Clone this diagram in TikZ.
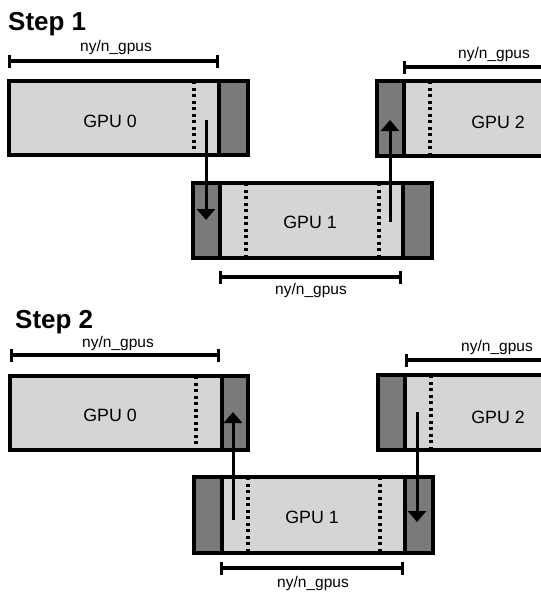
\documentclass[tikz,border=0pt]{standalone}
\usepackage{fontspec}
\setmainfont{Liberation Sans}
\usetikzlibrary{arrows.meta}
\definecolor{lightgpu}{HTML}{D5D5D5}
\definecolor{darkgpu}{HTML}{7A7A7A}
\tikzset{
  gpubox/.style={rectangle, fill=lightgpu, inner sep=0pt, outer sep=0pt},
  halo/.style={fill=darkgpu},
  border/.style={line width=3.8pt},
  sepline/.style={line width=3.6pt},
  dots/.style={line width=3.2pt, dash pattern=on 3pt off 3.5pt},
  measure/.style={line width=3.2pt, {Bar[width=13pt]}-{Bar[width=13pt]}},
  measureopen/.style={line width=3.2pt, {Bar[width=13pt]}-},
  xfer/.style={line width=3pt, -{Triangle[width=18pt,length=11pt]}},
  gputext/.style={font=\fontsize{17.8}{20}\selectfont, inner sep=0pt},
  meastext/.style={font=\fontsize{15.5}{18}\selectfont, inner sep=0pt},
  steptext/.style={font=\fontsize{26}{30}\selectfont\bfseries, anchor=base west, inner sep=0pt},
}
\begin{document}
\begin{tikzpicture}[x=1pt,y=-1pt]
\useasboundingbox (0,0) rectangle (541,592);
\clip (0,0) rectangle (541,592);

% ---------------- Step 1 ----------------
\node[steptext] (s1) at (8,30) {Step 1};

% GPU 0
\node[gpubox, minimum width=239pt, minimum height=74pt] (a0) at (128.5,118) {};
\fill[halo] (219,81) rectangle (248,155);
\draw[sepline] (219,81) -- (219,155);
\draw[dots] (194,81) -- (194,155);
\draw[border] (a0.north west) rectangle (a0.south east);
\node[gputext] (a0t) at (110,121) {GPU 0};

% GPU 1
\node[gpubox, minimum width=239pt, minimum height=75pt] (a1) at (312.5,220.5) {};
\fill[halo] (193,183) rectangle (220,258);
\fill[halo] (403,183) rectangle (432,258);
\draw[sepline] (220,183) -- (220,258);
\draw[sepline] (403,183) -- (403,258);
\draw[dots] (246,183) -- (246,258);
\draw[dots] (379,183) -- (379,258);
\draw[border] (a1.north west) rectangle (a1.south east);
\node[gputext] (a1t) at (310,222) {GPU 1};

% GPU 2
\node[gpubox, minimum width=263pt, minimum height=75pt] (a2) at (508.5,118.5) {};
\fill[halo] (377,81) rectangle (404,156);
\draw[sepline] (404,81) -- (404,156);
\draw[dots] (430,81) -- (430,156);
\draw[border] (a2.north west) rectangle (a2.south east);
\node[gputext] (a2t) at (498,122) {GPU 2};

% transfers
\coordinate (a0s) at (206,120);
\coordinate (a1e) at (206,220);
\coordinate (a1s) at (390,222);
\coordinate (a2e) at (390,120);
\draw[xfer] (a0s) -- (a1e);
\draw[xfer] (a1s) -- (a2e);

% measures
\coordinate (m0l) at (8,61);   \coordinate (m0r) at (219,61);
\coordinate (m1l) at (219,277); \coordinate (m1r) at (402,277);
\coordinate (m2l) at (403,67); \coordinate (m2r) at (580,67);
\draw[measure] (m0l) -- (m0r);
\draw[measure] (m1l) -- (m1r);
\draw[measureopen] (m2l) -- (m2r);
\node[meastext] (l0) at (116,47) {ny/n\_gpus};
\node[meastext] (l1) at (311,290) {ny/n\_gpus};
\node[meastext] (l2) at (494,54) {ny/n\_gpus};

% ---------------- Step 2 ----------------
\node[steptext] (s2) at (15,328) {Step 2};

% GPU 0
\node[gpubox, minimum width=238pt, minimum height=74pt] (b0) at (129,413) {};
\fill[halo] (222,376) rectangle (248,450);
\draw[sepline] (222,376) -- (222,450);
\draw[dots] (196,376) -- (196,450);
\draw[border] (b0.north west) rectangle (b0.south east);
\node[gputext] (b0t) at (110,415) {GPU 0};

% GPU 1
\node[gpubox, minimum width=239pt, minimum height=76pt] (b1) at (313.5,515) {};
\fill[halo] (194,477) rectangle (222,553);
\fill[halo] (405,477) rectangle (433,553);
\draw[sepline] (222,477) -- (222,553);
\draw[sepline] (405,477) -- (405,553);
\draw[dots] (248,477) -- (248,553);
\draw[dots] (380,477) -- (380,553);
\draw[border] (b1.north west) rectangle (b1.south east);
\node[gputext] (b1t) at (312,517) {GPU 1};

% GPU 2
\node[gpubox, minimum width=262pt, minimum height=75pt] (b2) at (509,412.5) {};
\fill[halo] (378,375) rectangle (405,450);
\draw[sepline] (405,375) -- (405,450);
\draw[dots] (431,375) -- (431,450);
\draw[border] (b2.north west) rectangle (b2.south east);
\node[gputext] (b2t) at (498,417) {GPU 2};

% transfers
\coordinate (b1s) at (233,520);
\coordinate (b0e) at (233,412);
\coordinate (b2s) at (417,412);
\coordinate (b1e) at (417,522);
\draw[xfer] (b1s) -- (b0e);
\draw[xfer] (b2s) -- (b1e);

% measures
\coordinate (n0l) at (10,355);  \coordinate (n0r) at (220,355);
\coordinate (n1l) at (220,568); \coordinate (n1r) at (404,568);
\coordinate (n2l) at (405,360); \coordinate (n2r) at (580,360);
\draw[measure] (n0l) -- (n0r);
\draw[measure] (n1l) -- (n1r);
\draw[measureopen] (n2l) -- (n2r);
\node[meastext] (k0) at (118,343) {ny/n\_gpus};
\node[meastext] (k1) at (313,583) {ny/n\_gpus};
\node[meastext] (k2) at (497,347) {ny/n\_gpus};
\end{tikzpicture}
\end{document}
